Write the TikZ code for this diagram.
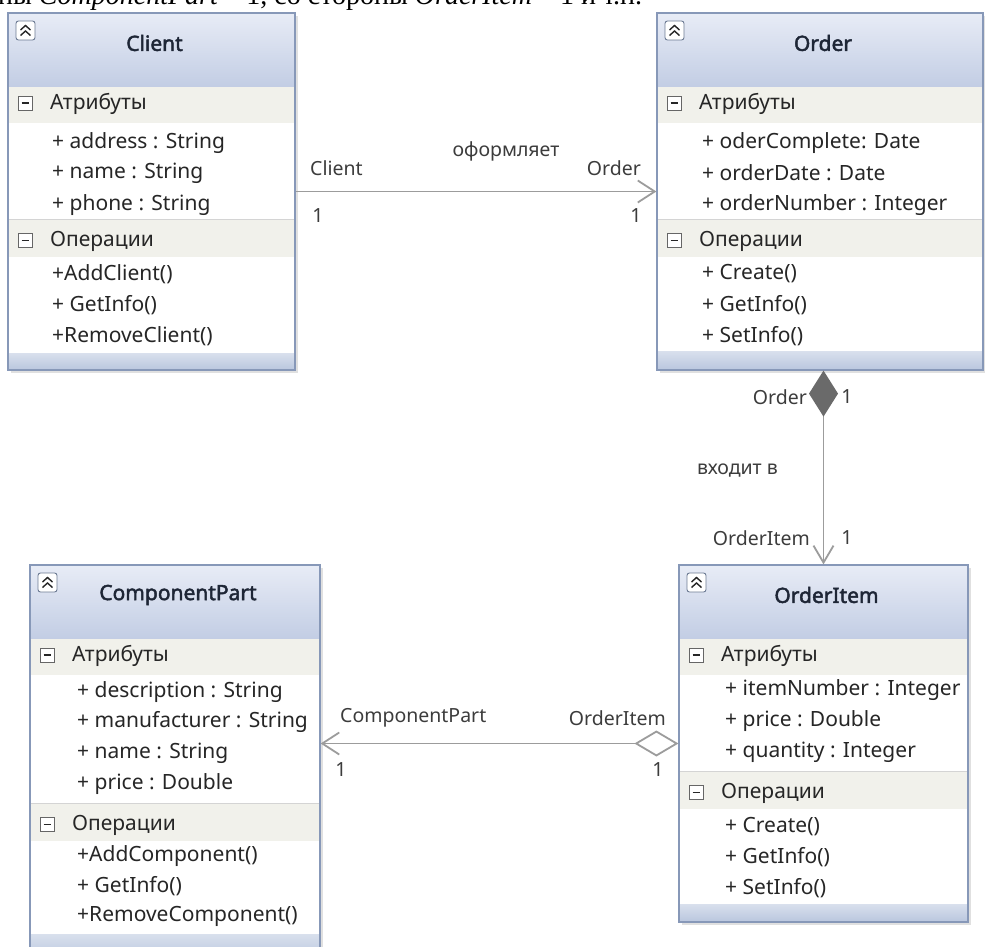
\documentclass[tikz,border=0pt]{standalone}
\usepackage{fontspec}
\setmainfont{Noto Sans}
\newfontfamily\titlefont{Noto Sans}[FakeBold=2.2]
\newfontfamily\toptextfont{Liberation Serif}
\usetikzlibrary{fit,arrows.meta}
\definecolor{hdrtop}{HTML}{E8ECF6}
\definecolor{hdrbot}{HTML}{C2CDE4}
\definecolor{frame}{HTML}{8798B8}
\definecolor{sect}{HTML}{F1F1EB}
\definecolor{foot}{HTML}{B9C6DE}
\definecolor{sepc}{HTML}{D4D4D4}
\definecolor{txt}{HTML}{262626}
\definecolor{ttl}{HTML}{1E2636}
\definecolor{link}{HTML}{9C9C9C}
\definecolor{comp}{HTML}{6A6A6A}
\tikzset{
  item/.style={anchor=west, inner sep=0pt, font=\fontsize{21}{21}\selectfont, text=txt},
  lbl/.style={inner sep=0pt, font=\fontsize{19.5}{19.5}\selectfont, text=txt!90},
  ctitle/.style={inner sep=0pt, font=\titlefont\fontsize{21}{21}\selectfont, text=ttl},
  frm/.style={draw=frame, line width=1.2pt, inner sep=0pt},
  conn/.style={draw=link, line width=1.8pt},
}
% #1 name, #2 x1, #3 y1, #4 x2, #5 y2, #6 title, #7 separator y, #8 footer y
\newcommand{\umlclass}[8]{%
  \fill[black!12] ({#2+3},{#3+3}) rectangle ({#4+3},{#5+3});
  \fill[white] (#2,#3) rectangle (#4,#5);
  \shade[top color=hdrtop, bottom color=hdrbot] (#2,#3) rectangle (#4,{#3+74});
  \fill[sect] (#2,{#3+74}) rectangle (#4,{#3+110});
  \fill[sect] (#2,#7) rectangle (#4,{#7+38});
  \draw[sepc, line width=0.8pt] (#2,#7) -- (#4,#7);
  \shade[top color=foot!55!white, bottom color=foot] (#2,#8) rectangle (#4,#5);
  \node[frm, fit={(#2,#3) (#4,#5)}] (#1) {};
  \node[ctitle] (#1-title) at ({(#2+#4)/2+3},{#3+30}) {#6};
  \draw[frame!80!black, fill=white, rounded corners=2.5pt, line width=0.9pt]
    ({#2+8},{#3+8}) rectangle ({#2+27},{#3+27});
  \draw[txt, line width=1.4pt] ({#2+12.5},{#3+17}) -- ({#2+17.5},{#3+12.5}) -- ({#2+22.5},{#3+17});
  \draw[txt, line width=1.4pt] ({#2+12.5},{#3+22.5}) -- ({#2+17.5},{#3+18}) -- ({#2+22.5},{#3+22.5});
  \draw[black!60, fill=white, line width=0.9pt] ({#2+10},{#3+83}) rectangle ({#2+24},{#3+97});
  \draw[txt, line width=1.4pt] ({#2+13.5},{#3+90}) -- ({#2+20.5},{#3+90});
  \node[item] (#1-attr) at ({#2+42},{#3+91}) {Атрибуты};
  \draw[black!60, fill=white, line width=0.9pt] ({#2+10},{#7+14.5}) rectangle ({#2+24},{#7+28.5});
  \draw[txt, line width=1.4pt] ({#2+13.5},{#7+21.5}) -- ({#2+20.5},{#7+21.5});
  \node[item] (#1-oper) at ({#2+42},{#7+22}) {Операции};
}
\begin{document}
\begin{tikzpicture}[x=1pt,y=-1pt]
\useasboundingbox (0,0) rectangle (985,947);
\clip (0,0) rectangle (985,947);
\fill[white] (0,0) rectangle (985,947);

% clipped line of text above the diagram
\node[anchor=base west, inner sep=0pt, font=\toptextfont\fontsize{28}{28}\selectfont] (toptext) at (-2,5)
  {ны \textit{ComponentPart} – 1, со стороны \textit{OrderItem} – 1 и т.п.};

% ---------- Client ----------
\umlclass{client}{8}{13}{295}{370}{Client}{219}{353}
\node[item] (c1) at (52,143) {+ address : String};
\node[item] (c2) at (52,173) {+ name : String};
\node[item] (c3) at (52,205) {+ phone : String};
\node[item] (c4) at (52,274) {+AddClient()};
\node[item] (c5) at (52,305) {+ GetInfo()};
\node[item] (c6) at (52,336) {+RemoveClient()};

% ---------- Order ----------
\umlclass{order}{657}{13}{983}{370}{Order}{219}{351}
\node[item] (o1) at (702,143) {+ oderComplete: Date};
\node[item] (o2) at (702,173) {+ orderDate : Date};
\node[item] (o3) at (702,205) {+ orderNumber : Integer};
\node[item] (o4) at (702,274) {+ Create()};
\node[item] (o5) at (702,305) {+ GetInfo()};
\node[item] (o6) at (702,336) {+ SetInfo()};

% ---------- OrderItem ----------
\umlclass{orderitem}{679}{565}{968}{922}{OrderItem}{771}{904}
\node[item] (i1) at (725,690) {+ itemNumber : Integer};
\node[item] (i2) at (725,721) {+ price : Double};
\node[item] (i3) at (725,752) {+ quantity : Integer};
\node[item] (i4) at (725,827) {+ Create()};
\node[item] (i5) at (725,857) {+ GetInfo()};
\node[item] (i6) at (725,888) {+ SetInfo()};

% ---------- ComponentPart ----------
\umlclass{cpart}{30}{565}{320}{960}{ComponentPart}{803}{934}
\node[item] (p1) at (77,692) {+ description : String};
\node[item] (p2) at (77,722) {+ manufacturer : String};
\node[item] (p3) at (77,753) {+ name : String};
\node[item] (p4) at (77,784) {+ price : Double};
\node[item] (p5) at (77,856) {+AddComponent()};
\node[item] (p6) at (77,886) {+ GetInfo()};
\node[item] (p7) at (77,916) {+RemoveComponent()};

% ---------- connectors ----------
\draw[conn, -{Straight Barb[length=17pt,width=22pt,line width=1.8pt]}] (client.east) -- (order.west);
\node[lbl] (l1) at (506,151) {оформляет};
\node[lbl, anchor=west] (l2) at (310,168) {Client};
\node[lbl, anchor=east] (l3) at (641,168) {Order};
\node[lbl] (l4) at (318,216) {1};
\node[lbl] (l5) at (636,216) {1};

\coordinate (ctop) at (order.south -| orderitem.north);
\draw[conn, {Diamond[length=46pt,width=29pt,fill=comp,color=comp]}-{Straight Barb[length=17pt,width=20pt,line width=1.8pt]}] (ctop) -- (orderitem.north);
\node[lbl, anchor=east] (l6) at (807,397) {Order};
\node[lbl] (l7) at (847,397) {1};
\node[lbl, anchor=west] (l8) at (697,471) {входит в};
\node[lbl, anchor=east] (l9) at (810,538) {OrderItem};
\node[lbl] (l10) at (847,538) {1};

\coordinate (aend) at (orderitem.west -| cpart.east);
\draw[conn, {Diamond[length=44pt,width=26pt,fill=white,open]}-{Straight Barb[length=17pt,width=22pt,line width=1.8pt]}] (orderitem.west) -- (aend);
\node[lbl, anchor=west] (l11) at (340,718) {ComponentPart};
\node[lbl, anchor=east] (l12) at (666,718) {OrderItem};
\node[lbl] (l13) at (341,770) {1};
\node[lbl] (l14) at (658,770) {1};
\end{tikzpicture}
\end{document}
